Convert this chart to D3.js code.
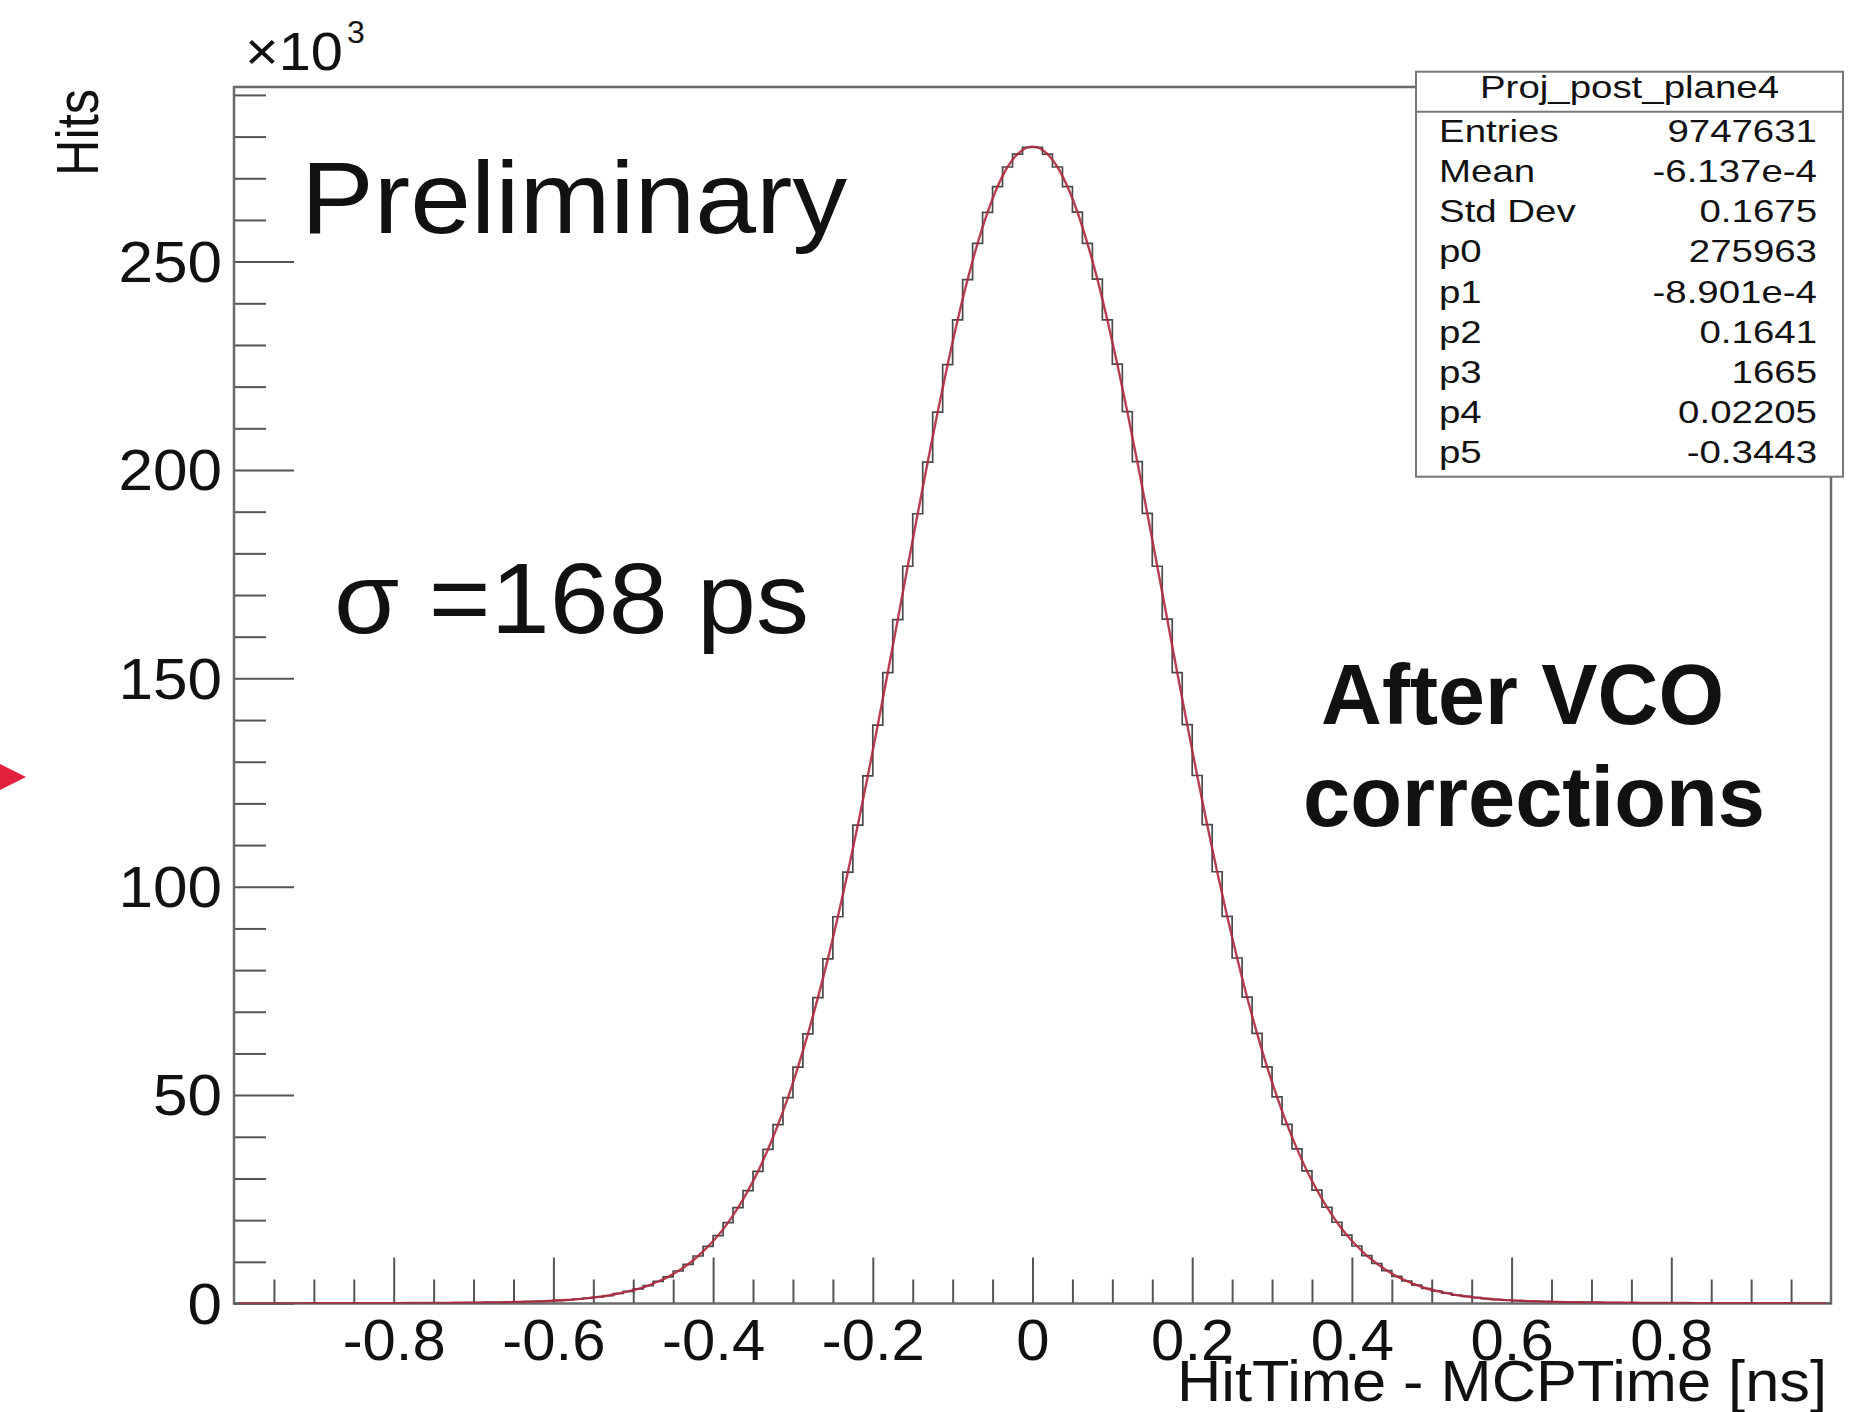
<!DOCTYPE html>
<html><head><meta charset="utf-8">
<script src="https://cdn.jsdelivr.net/npm/d3@7"></script>
<style>
body{margin:0;background:#fff}
svg{display:block}
text{font-family:"Liberation Sans",Arial,Helvetica,sans-serif;fill:#111}
</style>
</head><body>
<svg id="chart" width="1870" height="1412"></svg>
<script>
// ---------- data ----------
const binLow = -1.0;
const binHigh = 1.0;
// histogram counts per bin (x 10^3), 160 bins of 0.0125 ns from -1 to 1
const countsNeg = [0.022,0.024,0.027,0.030,0.033,0.036,0.040,0.044,0.048,0.053,
  0.058,0.064,0.072,0.080,0.088,0.095,0.10,0.11,0.12,0.13,
  0.15,0.16,0.18,0.20,0.22,0.26,0.28,0.33,0.38,0.44,
  0.51,0.61,0.73,0.88,1.06,1.3,1.6,1.9,2.4,2.9,
  3.5,4.3,5.3,6.4,7.8,9.4,11.4,13.7,16.3,19.4,
  23.0,27.1,31.7,37.0,42.9,49.4,56.7,64.7,73.4,82.7,
  92.8,103.5,114.8,126.6,138.8,151.4,164.1,176.9,189.5,201.9,
  213.9,225.3,236.0,245.7,254.4,261.8,268.0,272.7,275.8,277.4];
const countsPos = [277.4,275.8,272.7,268.0,261.9,254.4,245.8,236.0,225.4,214.0,
  202.0,189.6,176.9,164.2,151.4,138.9,126.7,114.9,103.6,92.9,
  82.9,73.5,64.8,56.8,49.6,43.0,37.1,31.8,27.2,23.1,
  19.5,16.4,13.8,11.5,9.6,7.9,6.5,5.4,4.4,3.6,
  3.0,2.5,2.0,1.7,1.4,1.15,0.96,0.81,0.69,0.58,
  0.51,0.44,0.39,0.34,0.31,0.27,0.25,0.21,0.19,0.18,
  0.17,0.15,0.14,0.13,0.125,0.11,0.10,0.095,0.088,0.080,
  0.073,0.067,0.061,0.056,0.050,0.045,0.041,0.037,0.034,0.031];
const counts = countsNeg.concat(countsPos);
const yMax = 291.9;

const xTickValues = [-0.8,-0.6,-0.4,-0.2,0,0.2,0.4,0.6,0.8];
const xTickLabels = ["-0.8","-0.6","-0.4","-0.2","0","0.2","0.4","0.6","0.8"];
const yTickValues = [0,50,100,150,200,250];
const yTickLabels = ["0","50","100","150","200","250"];
const xMinorStep = 0.05;
const yMinorStep = 10;

const statsTitle = "Proj_post_plane4";
const statsLabels = ["Entries","Mean","Std Dev","p0","p1","p2","p3","p4","p5"];
const statsValues = ["9747631","-6.137e-4","0.1675","275963","-8.901e-4","0.1641","1665","0.02205","-0.3443"];

const xTitle = "HitTime - MCPTime [ns]";
const yTitle = "Hits";
const noteMain = "Preliminary";
const noteSigma = "\u03c3 =168 ps";
const noteRight = ["After VCO", "corrections"];

// ---------- layout ----------
const L = 234, R = 1831, T = 87, B = 1303.5;
const svg = d3.select("#chart");
const x = d3.scaleLinear().domain([binLow, binHigh]).range([L, R]);
const y = d3.scaleLinear().domain([0, yMax]).range([B, T]);
const nBins = counts.length;
const bw = (binHigh - binLow) / nBins;

svg.append("defs").append("clipPath").attr("id","clip")
  .append("rect").attr("x",L).attr("y",T).attr("width",R-L).attr("height",B-T);

// red arrow marker at left edge
svg.append("path").attr("d","M-4,762 L26,777 L-4,792 Z").attr("fill","#e3203e");

// axes ticks
const axisColor = "#555";
const xMinor = d3.range(-0.95, 0.951, xMinorStep).filter(v => Math.abs(v/0.2 - Math.round(v/0.2)) > 1e-6);
const yMinor = d3.range(0, yMax, yMinorStep).filter(v => v % 50 !== 0);

const gxMinor = svg.append("g").attr("transform",`translate(0,${B})`)
  .call(d3.axisBottom(x).tickValues(xMinor).tickSize(-24).tickFormat(""));
const gx = svg.append("g").attr("transform",`translate(0,${B})`)
  .call(d3.axisBottom(x).tickValues(xTickValues).tickSize(-46)
    .tickFormat((d,i)=>xTickLabels[i]).tickPadding(0));
gx.selectAll("text").attr("dy",null).attr("y",56).attr("font-size",57)
  .attr("fill","#111").style("font-family",'"Liberation Sans",Arial,sans-serif')
  .each(function(){ const w=this.getComputedTextLength(); d3.select(this).attr("textLength",w*1.05).attr("lengthAdjust","spacingAndGlyphs"); });

const gyMinor = svg.append("g").attr("transform",`translate(${L},0)`)
  .call(d3.axisLeft(y).tickValues(yMinor).tickSize(-32).tickFormat(""));
const gy = svg.append("g").attr("transform",`translate(${L},0)`)
  .call(d3.axisLeft(y).tickValues(yTickValues).tickSize(-60)
    .tickFormat((d,i)=>yTickLabels[i]).tickPadding(12));
gy.selectAll("text").attr("font-size",58).attr("dy","0.34em")
  .attr("fill","#111").style("font-family",'"Liberation Sans",Arial,sans-serif')
  .each(function(){ const w=this.getComputedTextLength(); d3.select(this).attr("textLength",w*1.07).attr("lengthAdjust","spacingAndGlyphs"); });

[gxMinor,gx,gyMinor,gy].forEach(g=>{
  g.select(".domain").remove();
  g.selectAll("line").attr("stroke",axisColor).attr("stroke-width",2);
});

// frame
svg.append("rect").attr("x",L).attr("y",T).attr("width",R-L).attr("height",B-T)
  .attr("fill","none").attr("stroke","#6a6a6a").attr("stroke-width",2.5);

// histogram outline
const stepPts = [[binLow,0]];
counts.forEach((c,i)=>{ const x0 = binLow + i*bw; stepPts.push([x0,c],[x0+bw,c]); });
stepPts.push([binHigh,0]);
const plot = svg.append("g").attr("clip-path","url(#clip)");
plot.append("path").datum(stepPts)
  .attr("d", d3.line().x(d=>x(d[0])).y(d=>y(d[1])))
  .attr("fill","none").attr("stroke","#4a4a4a").attr("stroke-width",1.7);

// fit curve
const centers = counts.map((c,i)=>[binLow + (i+0.5)*bw, c]);
plot.append("path").datum(centers)
  .attr("d", d3.line().x(d=>x(d[0])).y(d=>y(d[1])).curve(d3.curveCatmullRom))
  .attr("fill","none").attr("stroke","#b02a3e").attr("stroke-width",2.4).attr("opacity",0.9);

// axis titles
svg.append("text").attr("transform","translate(98,89) rotate(-90)")
  .attr("text-anchor","end").attr("font-size",60)
  .attr("textLength",87).attr("lengthAdjust","spacingAndGlyphs").text(yTitle);
svg.append("text").attr("x",245).attr("y",70).attr("font-size",54)
  .attr("textLength",98).attr("lengthAdjust","spacingAndGlyphs").text("\u00d710");
svg.append("text").attr("x",347).attr("y",43).attr("font-size",32).text("3");
svg.append("text").attr("x",1827).attr("y",1401).attr("text-anchor","end")
  .attr("font-size",58).attr("textLength",650).attr("lengthAdjust","spacingAndGlyphs").text(xTitle);

// annotations
svg.append("text").attr("x",301).attr("y",233).attr("font-size",102)
  .attr("textLength",546).attr("lengthAdjust","spacingAndGlyphs").text(noteMain);
svg.append("text").attr("x",334).attr("y",633).attr("font-size",100)
  .attr("textLength",475).attr("lengthAdjust","spacingAndGlyphs").text(noteSigma);
svg.append("text").attr("x",1321).attr("y",724).attr("font-size",85)
  .attr("font-weight","bold").attr("textLength",403).attr("lengthAdjust","spacingAndGlyphs").text(noteRight[0]);
svg.append("text").attr("x",1303).attr("y",826).attr("font-size",85)
  .attr("font-weight","bold").attr("textLength",462).attr("lengthAdjust","spacingAndGlyphs").text(noteRight[1]);

// stats box
const sbX = 1416, sbY = 71.7, sbW = 427, sbH = 405;
svg.append("rect").attr("x",sbX).attr("y",sbY).attr("width",sbW).attr("height",sbH)
  .attr("fill","#fff").attr("stroke","#777").attr("stroke-width",2);
svg.append("line").attr("x1",sbX).attr("x2",sbX+sbW).attr("y1",111.7).attr("y2",111.7)
  .attr("stroke","#777").attr("stroke-width",2);
const sx = 1.24, fs = 31;
svg.append("text").attr("transform",`translate(${sbX+sbW/2},98) scale(${sx},1)`)
  .attr("text-anchor","middle").attr("font-size",fs).attr("fill","#222").text(statsTitle);
statsLabels.forEach((lab,i)=>{
  const by = 142 + i*40.15;
  svg.append("text").attr("transform",`translate(1439,${by}) scale(${sx},1)`)
    .attr("font-size",fs).attr("fill","#222").text(lab);
  svg.append("text").attr("transform",`translate(1817,${by}) scale(${sx},1)`)
    .attr("text-anchor","end").attr("font-size",fs).attr("fill","#222").text(statsValues[i]);
});
</script>
</body></html>
